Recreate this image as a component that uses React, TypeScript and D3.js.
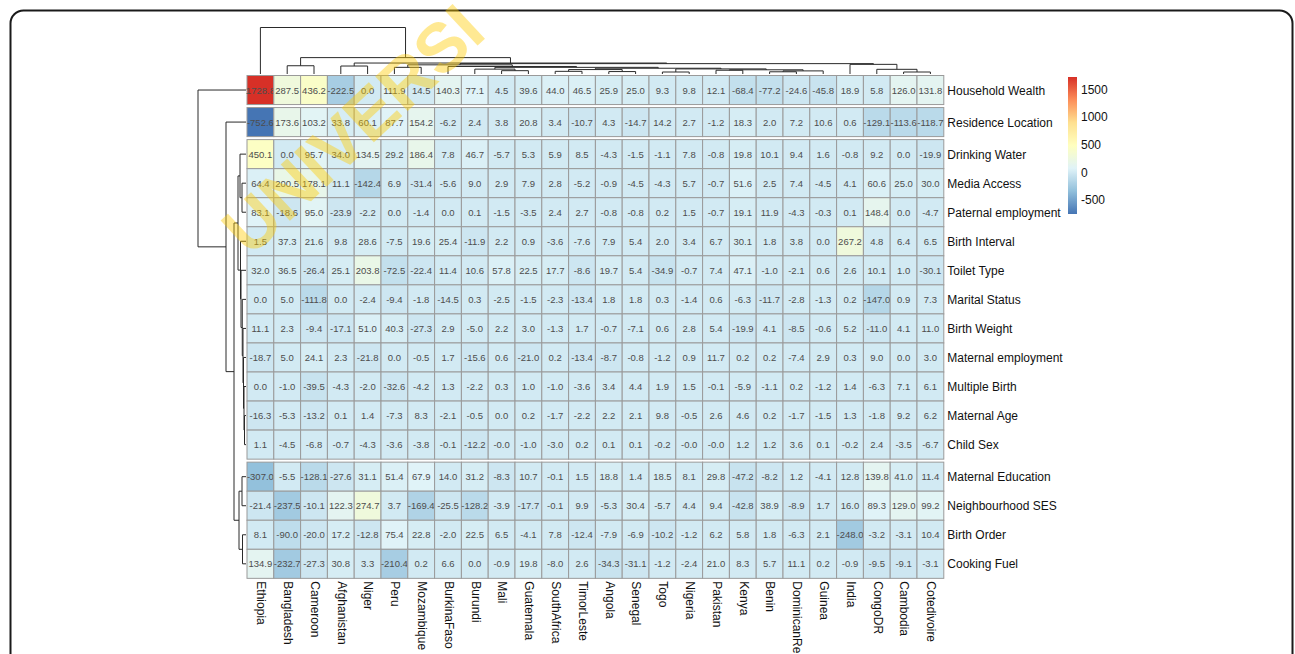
import { useEffect, useRef } from "react";
import * as d3 from "d3";

// ── data ───────────────────────────────────────────────────
const countries = [
  "Ethiopia", "Bangladesh", "Cameroon", "Afghanistan", "Niger", "Peru", "Mozambique",
  "BurkinaFaso", "Burundi", "Mali", "Guatemala", "SouthAfrica", "TimorLeste", "Angola",
  "Senegal", "Togo", "Nigeria", "Pakistan", "Kenya", "Benin", "DominicanRep", "Guinea",
  "India", "CongoDR", "Cambodia", "Cotedivoire",
];

const factors = [
  "Household Wealth", "Residence Location", "Drinking Water", "Media Access",
  "Paternal employment", "Birth Interval", "Toilet Type", "Marital Status", "Birth Weight",
  "Maternal employment", "Multiple Birth", "Maternal Age", "Child Sex",
  "Maternal Education", "Neighbourhood SES", "Birth Order", "Cooking Fuel",
];

// -0.01 stands for the cells printed as "-0.0"
const householdWealth = [1728.8, 287.5, 436.2, -222.5, 0.0, 111.9, 14.5, 140.3, 77.1, 4.5, 39.6, 44.0, 46.5, 25.9, 25.0, 9.3, 9.8, 12.1, -68.4, -77.2, -24.6, -45.8, 18.9, 5.8, 126.0, 131.8];
const residenceLocation = [-752.6, 173.6, 103.2, 33.8, 60.1, 87.7, 154.2, -6.2, 2.4, 3.8, 20.8, 3.4, -10.7, 4.3, -14.7, 14.2, 2.7, -1.2, 18.3, 2.0, 7.2, 10.6, 0.6, -129.1, -113.6, -118.7];
const drinkingWater = [450.1, 0.0, 95.7, 34.0, 134.5, 29.2, 186.4, 7.8, 46.7, -5.7, 5.3, 5.9, 8.5, -4.3, -1.5, -1.1, 7.8, -0.8, 19.8, 10.1, 9.4, 1.6, -0.8, 9.2, 0.0, -19.9];
const mediaAccess = [64.4, 200.5, 178.1, 11.1, -142.4, 6.9, -31.4, -5.6, 9.0, 2.9, 7.9, 2.8, -5.2, -0.9, -4.5, -4.3, 5.7, -0.7, 51.6, 2.5, 7.4, -4.5, 4.1, 60.6, 25.0, 30.0];
const paternalEmployment = [83.1, -18.6, 95.0, -23.9, -2.2, 0.0, -1.4, 0.0, 0.1, -1.5, -3.5, 2.4, 2.7, -0.8, -0.8, 0.2, 1.5, -0.7, 19.1, 11.9, -4.3, -0.3, 0.1, 148.4, 0.0, -4.7];
const birthInterval = [1.5, 37.3, 21.6, 9.8, 28.6, -7.5, 19.6, 25.4, -11.9, 2.2, 0.9, -3.6, -7.6, 7.9, 5.4, 2.0, 3.4, 6.7, 30.1, 1.8, 3.8, 0.0, 267.2, 4.8, 6.4, 6.5];
const toiletType = [32.0, 36.5, -26.4, 25.1, 203.8, -72.5, -22.4, 11.4, 10.6, 57.8, 22.5, 17.7, -8.6, 19.7, 5.4, -34.9, -0.7, 7.4, 47.1, -1.0, -2.1, 0.6, 2.6, 10.1, 1.0, -30.1];
const maritalStatus = [0.0, 5.0, -111.8, 0.0, -2.4, -9.4, -1.8, -14.5, 0.3, -2.5, -1.5, -2.3, -13.4, 1.8, 1.8, 0.3, -1.4, 0.6, -6.3, -11.7, -2.8, -1.3, 0.2, -147.0, 0.9, 7.3];
const birthWeight = [11.1, 2.3, -9.4, -17.1, 51.0, 40.3, -27.3, 2.9, -5.0, 2.2, 3.0, -1.3, 1.7, -0.7, -7.1, 0.6, 2.8, 5.4, -19.9, 4.1, -8.5, -0.6, 5.2, -11.0, 4.1, 11.0];
const maternalEmployment = [-18.7, 5.0, 24.1, 2.3, -21.8, 0.0, -0.5, 1.7, -15.6, 0.6, -21.0, 0.2, -13.4, -8.7, -0.8, -1.2, 0.9, 11.7, 0.2, 0.2, -7.4, 2.9, 0.3, 9.0, 0.0, 3.0];
const multipleBirth = [0.0, -1.0, -39.5, -4.3, -2.0, -32.6, -4.2, 1.3, -2.2, 0.3, 1.0, -1.0, -3.6, 3.4, 4.4, 1.9, 1.5, -0.1, -5.9, -1.1, 0.2, -1.2, 1.4, -6.3, 7.1, 6.1];
const maternalAge = [-16.3, -5.3, -13.2, 0.1, 1.4, -7.3, 8.3, -2.1, -0.5, 0.0, 0.2, -1.7, -2.2, 2.2, 2.1, 9.8, -0.5, 2.6, 4.6, 0.2, -1.7, -1.5, 1.3, -1.8, 9.2, 6.2];
const childSex = [1.1, -4.5, -6.8, -0.7, -4.3, -3.6, -3.8, -0.1, -12.2, -0.01, -1.0, -3.0, 0.2, 0.1, 0.1, -0.2, -0.01, -0.01, 1.2, 1.2, 3.6, 0.1, -0.2, 2.4, -3.5, -6.7];
const maternalEducation = [-307.0, -5.5, -128.1, -27.6, 31.1, 51.4, 67.9, 14.0, 31.2, -8.3, 10.7, -0.1, 1.5, 18.8, 1.4, 18.5, 8.1, 29.8, -47.2, -8.2, 1.2, -4.1, 12.8, 139.8, 41.0, 11.4];
const neighbourhoodSES = [-21.4, -237.5, -10.1, 122.3, 274.7, 3.7, -169.4, -25.5, -128.2, -3.9, -17.7, -0.1, 9.9, -5.3, 30.4, -5.7, 4.4, 9.4, -42.8, 38.9, -8.9, 1.7, 16.0, 89.3, 129.0, 99.2];
const birthOrder = [8.1, -90.0, -20.0, 17.2, -12.8, 75.4, 22.8, -2.0, 22.5, 6.5, -4.1, 7.8, -12.4, -7.9, -6.9, -10.2, -1.2, 6.2, 5.8, 1.8, -6.3, 2.1, -248.0, -3.2, -3.1, 10.4];
const cookingFuel = [134.9, -232.7, -27.3, 30.8, 3.3, -210.4, 0.2, 6.6, 0.0, -0.9, 19.8, -8.0, 2.6, -34.3, -31.1, -1.2, -2.4, 21.0, 8.3, 5.7, 11.1, 0.2, -0.9, -9.5, -9.1, -3.1];

const matrix = [
  householdWealth, residenceLocation, drinkingWater, mediaAccess, paternalEmployment,
  birthInterval, toiletType, maritalStatus, birthWeight, maternalEmployment, multipleBirth,
  maternalAge, childSex, maternalEducation, neighbourhoodSES, birthOrder, cookingFuel,
];

// rows after which the heatmap is cut (cutree gaps)
const rowGaps = [1, 2, 13];

const legendTicks = [-500, 0, 500, 1000, 1500];
const palette = ["#4575B4", "#91BFDB", "#E0F3F8", "#FFFFBF", "#FEE090", "#FC8D59", "#D73027"];

// ── dendrograms (merge heights) ────────────────────────────
type Tree = number | { h: number; l: Tree; r: Tree };
const n = (h: number, l: Tree, r: Tree): Tree => ({ h, l, r });

const colTree: Tree = n(2100, 0,
  n(740, n(373, 1, 2),
    n(495, n(360, 3, 4),
      n(468,
        n(414, n(301, 5, 6),
          n(340, 7,
            n(300, n(220, 8, n(150, 9, 10)),
              n(260, n(200, n(120, 11, 12), n(110, 13, 14)),
                n(230, n(90, 15, 16), n(190, n(170, 17, 18), n(140, n(100, 19, 20), 21))))))),
        n(436, 22, n(211, 23, n(90, 24, 25)))))));

const rowTree: Tree = n(1920, 0,
  n(800, 1,
    n(480,
      n(320, n(240, 2, n(160, 3, 4)),
        n(220, 5, n(200, 6, n(150, 7, n(120, 8, n(100, 9, n(80, 10, n(60, 11, 12)))))))),
      n(280, n(160, 13, 14), n(140, 15, 16)))));

const W = 1295;
const H = 654;

export default function App() {
  const svgRef = useRef<SVGSVGElement>(null);

  useEffect(() => {
    if (!svgRef.current) return;
    const svg = d3.select(svgRef.current);
    svg.selectAll("*").remove();

    const FONT = "'Liberation Sans', Arial, Helvetica, sans-serif";
    const GRID_L = 247, GRID_R = 943.8, GRID_T = 75.5, ROW_H = 29.05, GAP = 3;

    const x = d3.scaleBand<number>().domain(d3.range(countries.length)).range([GRID_L, GRID_R]);
    const rowTop = (i: number) => GRID_T + i * ROW_H + rowGaps.filter(g => g <= i).length * GAP;
    const rowMid = (i: number) => rowTop(i) + ROW_H / 2;

    // colour ramp like colorRampPalette(rev(RdYlBu 7))(100)
    const flat = matrix.flat();
    const vMin = d3.min(flat)!, vMax = d3.max(flat)!;
    const ramp = d3.scaleLinear<string>()
      .domain(d3.range(7).map(i => i / 6))
      .range(palette)
      .interpolate(d3.interpolateRgb);
    const colors = d3.range(100).map(k => ramp(k / 99));
    const color = (v: number) => {
      const k = Math.min(99, Math.floor(((v - vMin) / (vMax - vMin)) * 100));
      return colors[k];
    };

    // ── frame ──────────────────────────────────────────────
    svg.append("rect")
      .attr("x", 10.5).attr("y", 10.5).attr("width", 1282).attr("height", 700)
      .attr("rx", 13).attr("fill", "white")
      .attr("stroke", "#1a1a1a").attr("stroke-width", 2);

    // ── cells ──────────────────────────────────────────────
    const g = svg.append("g");
    matrix.forEach((row, ri) => {
      row.forEach((v, ci) => {
        g.append("rect")
          .attr("x", x(ci)!).attr("y", rowTop(ri))
          .attr("width", x.bandwidth()).attr("height", ROW_H)
          .attr("fill", color(v))
          .attr("stroke", "#9a9a9a").attr("stroke-width", 1);
        g.append("text")
          .attr("x", x(ci)! + x.bandwidth() / 2).attr("y", rowMid(ri) + 1)
          .attr("text-anchor", "middle").attr("dominant-baseline", "middle")
          .attr("font-size", "9.5px").attr("fill", "#4d4d4d")
          .style("font-family", FONT)
          .text(v.toFixed(1));
      });
    });

    // ── labels ─────────────────────────────────────────────
    factors.forEach((f, ri) => {
      svg.append("text")
        .attr("x", GRID_R + 3.5).attr("y", rowMid(ri) + 1.5)
        .attr("dominant-baseline", "middle")
        .attr("font-size", "12px").attr("fill", "#111")
        .style("font-family", FONT)
        .text(f);
    });
    countries.forEach((c, ci) => {
      const cx = x(ci)! + x.bandwidth() / 2;
      svg.append("text")
        .attr("transform", `translate(${cx},${rowTop(16) + ROW_H + 3}) rotate(90)`)
        .attr("dominant-baseline", "middle")
        .attr("font-size", "12px").attr("fill", "#111")
        .style("font-family", FONT)
        .text(c);
    });

    // ── dendrograms ────────────────────────────────────────
    const lines = svg.append("g").attr("fill", "none").attr("stroke", "#2a2a2a").attr("stroke-width", 1);

    const colY = d3.scaleLinear().domain([0, 2100]).range([GRID_T - 1.5, 27.5]);
    const drawCol = (t: Tree): { c: number; h: number } => {
      if (typeof t === "number") return { c: x(t)! + x.bandwidth() / 2, h: 0 };
      const a = drawCol(t.l), b = drawCol(t.r);
      lines.append("path").attr("d",
        `M${a.c},${colY(a.h)}V${colY(t.h)}H${b.c}V${colY(b.h)}`);
      return { c: (a.c + b.c) / 2, h: t.h };
    };
    drawCol(colTree);

    const rowX = d3.scaleLinear().domain([0, 1920]).range([GRID_L - 1, 198]);
    const drawRow = (t: Tree): { c: number; h: number } => {
      if (typeof t === "number") return { c: rowMid(t), h: 0 };
      const a = drawRow(t.l), b = drawRow(t.r);
      lines.append("path").attr("d",
        `M${rowX(a.h)},${a.c}H${rowX(t.h)}V${b.c}H${rowX(b.h)}`);
      return { c: (a.c + b.c) / 2, h: t.h };
    };
    drawRow(rowTree);

    // ── legend ─────────────────────────────────────────────
    const ly = d3.scaleLinear().domain([vMin, vMax]).range([214, 77]);
    const grad = svg.append("defs").append("linearGradient")
      .attr("id", "legend-grad").attr("x1", 0).attr("y1", 1).attr("x2", 0).attr("y2", 0);
    colors.forEach((c, k) => {
      grad.append("stop").attr("offset", k / 99).attr("stop-color", c);
    });
    svg.append("rect")
      .attr("x", 1068).attr("y", ly(vMax)).attr("width", 9).attr("height", ly(vMin) - ly(vMax))
      .attr("fill", "url(#legend-grad)");
    legendTicks.forEach(t => {
      svg.append("text")
        .attr("x", 1081).attr("y", ly(t) + 1)
        .attr("dominant-baseline", "middle")
        .attr("font-size", "12px").attr("fill", "#111")
        .style("font-family", FONT)
        .text(t);
    });

    // ── watermark ──────────────────────────────────────────
    svg.append("text")
      .attr("transform", "translate(250,258) rotate(-43)")
      .attr("font-size", "69px").attr("font-weight", "bold")
      .attr("fill", "#FFCC00").attr("opacity", 0.42)
      .style("font-family", FONT)
      .text("UNIVERSI");
  }, []);

  return (
    <div style={{ position: "absolute", left: 0, top: 0, width: W, height: H, background: "white" }}>
      <svg ref={svgRef} width={W} height={H} />
    </div>
  );
}
